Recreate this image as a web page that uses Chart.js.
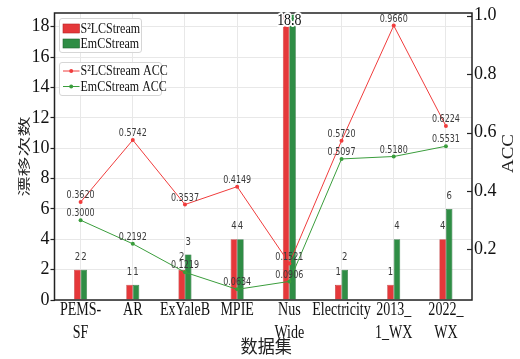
<!DOCTYPE html>
<html>
<head>
<meta charset="utf-8">
<script src="https://cdn.jsdelivr.net/npm/chart.js@4/dist/chart.umd.min.js"></script>
<style>
  html, body { margin: 0; padding: 0; background: #fff; }
  #wrap { width: 520px; height: 359px; }
</style>
</head>
<body>
<div id="wrap"><canvas id="c" width="520" height="359"></canvas></div>
<script>
// Datasets and their drift counts / accuracies
const categories = [["PEMS-", "SF"], ["AR"], ["ExYaleB"], ["MPIE"], ["Nus", "Wide"], ["Electricity"], ["2013_", "1_WX"], ["2022_", "WX"]];
const driftS2 = [2, 1, 2, 4, 18.8, 1, 1, 4];
const driftEm = [2, 1, 3, 4, 18.8, 2, 4, 6];
const accS2 = [0.3620, 0.5742, 0.3537, 0.4149, 0.1521, 0.5720, 0.9660, 0.6224];
const accEm = [0.3000, 0.2192, 0.1219, 0.0634, 0.0906, 0.5097, 0.5180, 0.5531];
const driftTicks = [0, 2, 4, 6, 8, 10, 12, 14, 16, 18];
const accTicks = [0.2, 0.4, 0.6, 0.8, 1.0];
const seriesNames = ["S\u00B2LCStream", "EmCStream"];
const accNames = ["S\u00B2LCStream ACC", "EmCStream ACC"];
const driftTitle = '漂移次数';
const accTitle = 'ACC';
const datasetTitle = '数据集';

const SERIF = "'Liberation Serif', 'Times New Roman', serif";
const SANS = "'DejaVu Sans', sans-serif";
const CJK = "'Liberation Serif', 'Noto Sans CJK SC', serif";

const RED = '#e5383a', RED_EDGE = '#b52426';
const GREEN = '#2f8d45', GREEN_EDGE = '#1f6330';
const RED_LINE = '#f03c3c', GREEN_LINE = '#3a9d3c';

// the tallest pair of bars shares one label above them
const peakIndex = driftS2.indexOf(Math.max(...driftS2));

// text drawn narrower than the font's natural width
function narrowText(ctx, text, x, y, sx, halo) {
  ctx.save();
  ctx.translate(x, y);
  ctx.scale(sx, 1);
  if (halo) {
    ctx.strokeStyle = '#fff';
    ctx.lineWidth = 4;
    ctx.lineJoin = 'round';
    ctx.strokeText(text, 0, 0);
  }
  ctx.fillText(text, 0, 0);
  ctx.restore();
}

const overlay = {
  id: 'overlay',
  afterDatasetsDraw(chart) {
    const { ctx } = chart;
    ctx.save();
    ctx.textAlign = 'center';
    ctx.textBaseline = 'middle';
    // bar value labels
    ctx.font = `10px ${SANS}`;
    ctx.fillStyle = '#3a3a3a';
    [2, 3].forEach(di => {
      const vals = chart.data.datasets[di].data;
      chart.getDatasetMeta(di).data.forEach((el, i) => {
        if (i === peakIndex) return;
        narrowText(ctx, String(vals[i]), el.x, el.y - 12.5, 0.85);
      });
    });
    // accuracy labels
    [0, 1].forEach(di => {
      const vals = chart.data.datasets[di].data;
      chart.getDatasetMeta(di).data.forEach((el, i) => {
        narrowText(ctx, vals[i].toFixed(4), el.x, el.y - 6.5, 0.8);
      });
    });
    ctx.restore();
  },
  afterDraw(chart) {
    const { ctx, chartArea: a, scales } = chart;
    ctx.save();
    // plot frame
    ctx.strokeStyle = '#222';
    ctx.lineWidth = 1.5;
    ctx.strokeRect(a.left, a.top, a.right - a.left, a.bottom - a.top);
    // inward ticks of the accuracy axis
    ctx.lineWidth = 1.2;
    scales.y1.ticks.forEach(t => {
      const y = Math.round(scales.y1.getPixelForValue(t.value)) + 0.5;
      ctx.beginPath();
      ctx.moveTo(a.right - 5, y);
      ctx.lineTo(a.right, y);
      ctx.stroke();
    });
    ctx.fillStyle = '#111';
    ctx.textAlign = 'center';
    ctx.textBaseline = 'middle';
    // category labels under each bar group
    ctx.font = `18px ${SERIF}`;
    scales.x.ticks.forEach((t, i) => {
      const x = scales.x.getPixelForTick(i);
      categories[i].forEach((line, k) => {
        narrowText(ctx, line, x, a.bottom + 10 + k * 23, 0.78);
      });
    });
    // shared label of the tallest bars
    const b0 = chart.getDatasetMeta(2).data[peakIndex];
    const b1 = chart.getDatasetMeta(3).data[peakIndex];
    ctx.font = `17px ${SERIF}`;
    narrowText(ctx, driftS2[peakIndex].toFixed(1), (b0.x + b1.x) / 2, a.top + 8, 0.82, true);
    // left axis title, reading bottom to top
    ctx.save();
    ctx.fillStyle = '#222';
    ctx.font = `20px ${CJK}`;
    ctx.translate(26, (a.top + a.bottom) / 2);
    ctx.rotate(-Math.PI / 2);
    ctx.scale(1, 0.62);
    ctx.fillText(driftTitle, 0, 0);
    ctx.restore();
    // right axis title, reading bottom to top
    ctx.save();
    ctx.fillStyle = '#222';
    ctx.font = `19px ${SERIF}`;
    ctx.translate(509, (a.top + a.bottom) / 2 - 3);
    ctx.rotate(-Math.PI / 2);
    ctx.scale(1, 0.85);
    ctx.fillText(accTitle, 0, 0);
    ctx.restore();
    // bottom axis title
    ctx.fillStyle = '#222';
    ctx.font = `18px ${CJK}`;
    narrowText(ctx, datasetTitle, (a.left + a.right) / 2 + 3, 348, 0.95);
    ctx.restore();

    // legends
    ctx.save();
    const box = (x, y, w, h) => {
      ctx.beginPath();
      ctx.roundRect(x, y, w, h, 2.5);
      ctx.fillStyle = 'rgba(255,255,255,0.9)';
      ctx.fill();
      ctx.strokeStyle = '#d6d6d6';
      ctx.lineWidth = 1;
      ctx.stroke();
    };
    ctx.font = `15px ${SERIF}`;
    ctx.textAlign = 'left';
    ctx.textBaseline = 'middle';
    box(59.5, 18.5, 82, 34);
    [[RED, RED_EDGE, 28.5], [GREEN, GREEN_EDGE, 43.5]].forEach(([c, e, y], k) => {
      ctx.fillStyle = c;
      ctx.fillRect(63, y - 4.5, 16.5, 9);
      ctx.strokeStyle = e; ctx.lineWidth = 0.6;
      ctx.strokeRect(63, y - 4.5, 16.5, 9);
      ctx.fillStyle = '#111';
      narrowText(ctx, seriesNames[k], 80.5, y + 0.5, 0.8);
    });
    box(59.5, 62.5, 102, 33);
    [[RED_LINE, 71], [GREEN_LINE, 86.5]].forEach(([c, y], k) => {
      ctx.strokeStyle = c; ctx.lineWidth = 1;
      ctx.beginPath(); ctx.moveTo(63, y); ctx.lineTo(79.5, y); ctx.stroke();
      ctx.fillStyle = c;
      ctx.beginPath(); ctx.arc(71.2, y, 2, 0, Math.PI * 2); ctx.fill();
      ctx.fillStyle = '#111';
      narrowText(ctx, accNames[k], 80.5, y + 0.5, 0.8);
    });
    ctx.restore();
  }
};

new Chart(document.getElementById('c'), {
  data: {
    labels: categories,
    datasets: [
      { type: 'line', label: accNames[0], data: accS2, yAxisID: 'y1', order: 0,
        borderColor: RED_LINE, backgroundColor: RED_LINE, borderWidth: 1,
        pointRadius: 2, pointHoverRadius: 2, pointBorderWidth: 0, tension: 0 },
      { type: 'line', label: accNames[1], data: accEm, yAxisID: 'y1', order: 0,
        borderColor: GREEN_LINE, backgroundColor: GREEN_LINE, borderWidth: 1,
        pointRadius: 2, pointHoverRadius: 2, pointBorderWidth: 0, tension: 0 },
      { type: 'bar', label: seriesNames[0], data: driftS2, yAxisID: 'y', order: 1,
        backgroundColor: RED, borderColor: RED_EDGE, borderWidth: 0.6,
        categoryPercentage: 0.25, barPercentage: 1.0 },
      { type: 'bar', label: seriesNames[1], data: driftEm, yAxisID: 'y', order: 1,
        backgroundColor: GREEN, borderColor: GREEN_EDGE, borderWidth: 0.6,
        categoryPercentage: 0.25, barPercentage: 1.0 }
    ]
  },
  options: {
    responsive: false,
    animation: false,
    devicePixelRatio: 1,
    layout: { padding: { top: 13, left: 0, right: 0, bottom: 0 } },
    plugins: { legend: { display: false }, tooltip: { enabled: false } },
    scales: {
      x: {
        type: 'category',
        offset: true,
        grid: { offset: false, color: '#e8e8e8', drawTicks: false },
        border: { display: false },
        ticks: { display: false },
        afterFit: s => { s.height = 59; }
      },
      y: {
        position: 'left',
        min: 0, max: 18.9,
        afterBuildTicks: s => { s.ticks = driftTicks.map(v => ({ value: v })); },
        grid: { color: '#e8e8e8', tickColor: '#222', tickLength: 4, tickWidth: 1.2 },
        border: { display: false },
        ticks: { font: { family: SERIF, size: 18 }, color: '#111', padding: 1 },
        afterFit: s => { s.width = 54.5; }
      },
      y1: {
        position: 'right',
        min: 0.027, max: 1.009,
        afterBuildTicks: s => { s.ticks = accTicks.map(v => ({ value: v })); },
        grid: { display: false, drawTicks: false },
        border: { display: false },
        ticks: { font: { family: SERIF, size: 18 }, color: '#111', padding: 2,
                 callback: v => Number(v).toFixed(1) },
        afterFit: s => { s.width = 48; }
      }
    }
  },
  plugins: [overlay]
});
</script>
</body>
</html>
